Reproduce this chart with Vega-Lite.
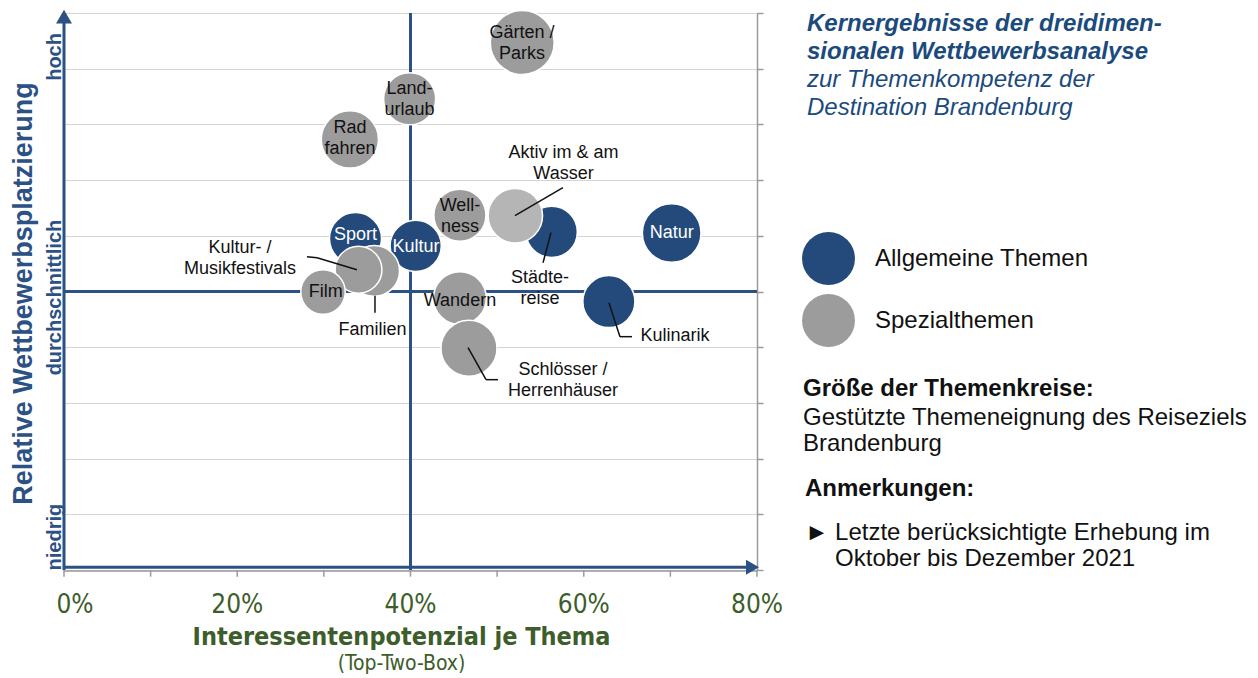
{
  "$schema": "https://vega.github.io/schema/vega-lite/v6.json",
  "width": 693,
  "height": 557,
  "autosize": {"type": "none"},
  "padding": {"left": 64, "top": 13, "right": 501, "bottom": 108},
  "background": "white",
  "config": {"view": {"stroke": null}, "font": "Liberation Sans"},
  "title": {
    "text": "Interessentenpotenzial je Thema",
    "subtitle": "(Top-Two-Box)",
    "orient": "bottom",
    "anchor": "middle",
    "frame": "group",
    "dx": -9,
    "offset": 7,
    "font": "'DejaVu Sans Condensed', 'Liberation Sans', sans-serif",
    "fontSize": 25,
    "fontWeight": "bold",
    "color": "#3d5d2a",
    "subtitleFont": "'DejaVu Sans Condensed', 'Liberation Sans', sans-serif",
    "subtitleFontSize": 21,
    "subtitleColor": "#3d5d2a",
    "subtitlePadding": 3
  },
  "datasets": {
    "themen": [
      {"Thema": "Gärten / Parks", "Typ": "Spezialthemen", "Interesse": 0.529, "Platzierung": 9.47, "Eignung": 95},
      {"Thema": "Landurlaub", "Typ": "Spezialthemen", "Interesse": 0.399, "Platzierung": 8.46, "Eignung": 63},
      {"Thema": "Rad fahren", "Typ": "Spezialthemen", "Interesse": 0.33, "Platzierung": 7.73, "Eignung": 76},
      {"Thema": "Wellness", "Typ": "Spezialthemen", "Interesse": 0.457, "Platzierung": 6.37, "Eignung": 63},
      {"Thema": "Städtereise", "Typ": "Allgemeine Themen", "Interesse": 0.563, "Platzierung": 6.07, "Eignung": 61},
      {"Thema": "Aktiv im & am Wasser", "Typ": "Spezialthemen", "Interesse": 0.521, "Platzierung": 6.36, "Eignung": 69},
      {"Thema": "Natur", "Typ": "Allgemeine Themen", "Interesse": 0.7015, "Platzierung": 6.05, "Eignung": 80},
      {"Thema": "Sport", "Typ": "Allgemeine Themen", "Interesse": 0.3365, "Platzierung": 5.95, "Eignung": 63},
      {"Thema": "Kultur", "Typ": "Allgemeine Themen", "Interesse": 0.406, "Platzierung": 5.82, "Eignung": 61},
      {"Thema": "Familien", "Typ": "Spezialthemen", "Interesse": 0.358, "Platzierung": 5.37, "Eignung": 60},
      {"Thema": "Kultur- / Musikfestivals", "Typ": "Spezialthemen", "Interesse": 0.34, "Platzierung": 5.39, "Eignung": 51},
      {"Thema": "Film", "Typ": "Spezialthemen", "Interesse": 0.299, "Platzierung": 4.99, "Eignung": 46},
      {"Thema": "Kulinarik", "Typ": "Allgemeine Themen", "Interesse": 0.629, "Platzierung": 4.82, "Eignung": 63},
      {"Thema": "Wandern", "Typ": "Spezialthemen", "Interesse": 0.457, "Platzierung": 4.88, "Eignung": 65},
      {"Thema": "Schlösser / Herrenhäuser", "Typ": "Spezialthemen", "Interesse": 0.4675, "Platzierung": 3.98, "Eignung": 73}
    ],
    "beschriftung": [
      {"Text": "Gärten /\nParks", "Typ": "Spezialthemen", "innen": true, "x": 0.5287, "y": 9.641},
      {"Text": "Land-\nurlaub", "Typ": "Spezialthemen", "innen": true, "x": 0.3988, "y": 8.627},
      {"Text": "Rad\nfahren", "Typ": "Spezialthemen", "innen": true, "x": 0.3302, "y": 7.935},
      {"Text": "Sport", "Typ": "Allgemeine Themen", "innen": true, "x": 0.3365, "y": 6.02},
      {"Text": "Kultur", "Typ": "Allgemeine Themen", "innen": true, "x": 0.4063, "y": 5.8},
      {"Text": "Natur", "Typ": "Allgemeine Themen", "innen": true, "x": 0.7015, "y": 6.05},
      {"Text": "Well-\nness", "Typ": "Spezialthemen", "innen": true, "x": 0.4571, "y": 6.528},
      {"Text": "Aktiv im & am\nWasser", "Typ": "Spezialthemen", "innen": false, "x": 0.5766, "y": 7.487},
      {"Text": "Städte-\nreise", "Typ": "Allgemeine Themen", "innen": false, "x": 0.5495, "y": 5.242},
      {"Text": "Kultur- /\nMusikfestivals", "Typ": "Spezialthemen", "innen": false, "x": 0.2032, "y": 5.786},
      {"Text": "Film", "Typ": "Spezialthemen", "innen": true, "x": 0.3021, "y": 4.984},
      {"Text": "Familien", "Typ": "Spezialthemen", "innen": false, "x": 0.3561, "y": 4.314},
      {"Text": "Wandern", "Typ": "Spezialthemen", "innen": true, "x": 0.4571, "y": 4.822},
      {"Text": "Schlösser /\nHerrenhäuser", "Typ": "Spezialthemen", "innen": false, "x": 0.5761, "y": 3.596},
      {"Text": "Kulinarik", "Typ": "Allgemeine Themen", "innen": false, "x": 0.7053, "y": 4.194}
    ],
    "linien": [
      {"Thema": "Aktiv im & am Wasser", "x": 0.576, "y": 6.864, "x2": 0.5206, "y2": 6.361},
      {"Thema": "Städtereise", "x": 0.5622, "y": 6.056, "x2": 0.553, "y2": 5.517},
      {"Thema": "Kultur- / Musikfestivals", "x": 0.2805, "y": 5.625, "x2": 0.2921, "y2": 5.607},
      {"Thema": "Kultur- / Musikfestivals", "x": 0.2921, "y": 5.607, "x2": 0.3382, "y2": 5.392},
      {"Thema": "Familien", "x": 0.359, "y": 4.925, "x2": 0.359, "y2": 4.62},
      {"Thema": "Schlösser / Herrenhäuser", "x": 0.4664, "y": 3.991, "x2": 0.4872, "y2": 3.417},
      {"Thema": "Schlösser / Herrenhäuser", "x": 0.4872, "y": 3.417, "x2": 0.501, "y2": 3.417},
      {"Thema": "Kulinarik", "x": 0.6291, "y": 4.799, "x2": 0.6418, "y2": 4.189},
      {"Thema": "Kulinarik", "x": 0.6418, "y": 4.189, "x2": 0.6557, "y2": 4.189}
    ],
    "xachse": [
      {"Wert": 0, "Text": "0%"},
      {"Wert": 0.1, "Text": ""},
      {"Wert": 0.2, "Text": "20%"},
      {"Wert": 0.3, "Text": ""},
      {"Wert": 0.4, "Text": "40%"},
      {"Wert": 0.5, "Text": ""},
      {"Wert": 0.6, "Text": "60%"},
      {"Wert": 0.7, "Text": ""},
      {"Wert": 0.8, "Text": "80%"}
    ],
    "notizen": [
      {"Teil": "Titel", "Text": "Kernergebnisse der dreidimen-\nsionalen Wettbewerbsanalyse", "x": 0.8577, "y": 9.67},
      {"Teil": "Untertitel", "Text": "zur Themenkompetenz der\nDestination Brandenburg", "x": 0.8577, "y": 8.671},
      {"Teil": "Überschrift", "Text": "Größe der Themenkreise:", "x": 0.8531, "y": 3.117},
      {"Teil": "Text", "Text": "Gestützte Themeneignung des Reiseziels\nBrandenburg", "x": 0.8531, "y": 2.609},
      {"Teil": "Überschrift", "Text": "Anmerkungen:", "x": 0.8554, "y": 1.321},
      {"Teil": "Text", "Text": "►", "x": 0.8554, "y": 0.544},
      {"Teil": "Text", "Text": "Letzte berücksichtigte Erhebung im\nOktober bis Dezember 2021", "x": 0.8901, "y": 0.544}
    ]
  },
  "resolve": {"axis": {"y": "independent"}},
  "layer": [
    {
      "data": {"name": "xachse"},
      "mark": {"type": "rule", "color": "#9a9a9a", "strokeWidth": 1.5},
      "encoding": {
        "x": {"field": "Wert", "type": "quantitative", "scale": {"domain": [0, 0.8], "nice": false, "zero": false}, "axis": null},
        "y": {"datum": 0, "type": "quantitative", "scale": {"domain": [0, 10], "nice": false, "zero": false}, "axis": null},
        "y2": {"datum": -0.12}
      }
    },
    {
      "data": {"values": [{}]},
      "mark": {"type": "rule", "color": "#9a9a9a", "strokeWidth": 1.5},
      "encoding": {
        "x": {"datum": 0, "type": "quantitative", "scale": {"domain": [0, 0.8], "nice": false, "zero": false}, "axis": null},
        "x2": {"datum": 0.8},
        "y": {"datum": -0.02, "type": "quantitative", "scale": {"domain": [0, 10], "nice": false, "zero": false}, "axis": null}
      }
    },
    {
      "data": {"name": "xachse"},
      "transform": [{"filter": "datum.Text !== ''"}],
      "mark": {"type": "text", "font": "'DejaVu Sans Condensed', 'Liberation Sans', sans-serif", "fontSize": 26, "color": "#3d5d2a", "align": "center", "baseline": "middle", "dx": {"expr": "datum.Wert === 0 ? 11 : 0"}},
      "encoding": {
        "x": {"field": "Wert", "type": "quantitative", "scale": {"domain": [0, 0.8], "nice": false, "zero": false}, "axis": null},
        "y": {"datum": -0.623, "type": "quantitative", "scale": {"domain": [0, 10], "nice": false, "zero": false}, "axis": null},
        "text": {"field": "Text"}
      }
    },
    {
      "data": {"values": [{}]},
      "mark": {"type": "rule", "color": "#2b5185", "strokeWidth": 3},
      "encoding": {
        "x": {"datum": 0.4, "type": "quantitative", "scale": {"domain": [0, 0.8], "nice": false, "zero": false}, "axis": null},
        "y": {"datum": 0, "type": "quantitative", "scale": {"domain": [0, 10], "nice": false, "zero": false}, "axis": null},
        "y2": {"datum": 10}
      }
    },
    {
      "data": {"values": [{}]},
      "mark": {"type": "rule", "color": "#2b5185", "strokeWidth": 3},
      "encoding": {
        "x": {"datum": 0, "type": "quantitative", "scale": {"domain": [0, 0.8], "nice": false, "zero": false}, "axis": null},
        "x2": {"datum": 0.8},
        "y": {"datum": 5, "type": "quantitative", "scale": {"domain": [0, 10], "nice": false, "zero": false}, "axis": null}
      }
    },
    {
      "data": {"name": "themen"},
      "mark": {"type": "point", "shape": "circle", "filled": true, "opacity": 1, "stroke": "white", "strokeWidth": 1.5},
      "encoding": {
        "x": {"field": "Interesse", "type": "quantitative", "scale": {"domain": [0, 0.8], "nice": false, "zero": false}, "axis": null},
        "y": {
          "field": "Platzierung", "type": "quantitative",
          "scale": {"domain": [0, 10], "nice": false, "zero": false},
          "axis": {
            "orient": "right",
            "values": [0, 1, 2, 3, 4, 5, 6, 7, 8, 9, 10],
            "labels": false,
            "grid": true, "gridColor": "#d4d4d4", "gridWidth": 1,
            "domainColor": "#9a9a9a", "domainWidth": 1.5,
            "tickColor": "#9a9a9a", "tickSize": 6, "tickWidth": 1.5,
            "title": null
          }
        },
        "size": {"field": "Eignung", "type": "quantitative", "scale": {"domain": [0, 100], "range": [0, 4300]}, "legend": null},
        "fill": {
          "condition": {"test": "datum.Thema === 'Aktiv im & am Wasser'", "value": "#b5b5b5"},
          "field": "Typ", "type": "nominal",
          "scale": {"domain": ["Allgemeine Themen", "Spezialthemen"], "range": ["#244a7c", "#9c9c9c"]},
          "legend": {
            "orient": "none", "legendX": 738, "legendY": 219,
            "title": null, "padding": 0, "offset": 0,
            "symbolType": "circle", "symbolSize": 2800, "symbolStrokeWidth": 0, "symbolOpacity": 1,
            "labelFont": "Liberation Sans", "labelFontSize": 24, "labelColor": "#111111",
            "labelOffset": 20, "rowPadding": 9, "labelLimit": 400
          }
        }
      }
    },
    {
      "data": {"name": "linien"},
      "mark": {"type": "rule", "color": "#111111", "strokeWidth": 1.5},
      "encoding": {
        "x": {"field": "x", "type": "quantitative", "scale": {"domain": [0, 0.8], "nice": false, "zero": false}, "axis": null},
        "y": {"field": "y", "type": "quantitative", "scale": {"domain": [0, 10], "nice": false, "zero": false}, "axis": null},
        "x2": {"field": "x2"},
        "y2": {"field": "y2"}
      }
    },
    {
      "data": {"name": "beschriftung"},
      "mark": {"type": "text", "font": "Liberation Sans", "fontSize": 18, "align": "center", "baseline": "middle", "lineBreak": "\n", "lineHeight": 21},
      "encoding": {
        "x": {
          "field": "x", "type": "quantitative",
          "scale": {"domain": [0, 0.8], "nice": false, "zero": false},
          "axis": {
            "orient": "bottom",
            "values": [0, 0.1, 0.2, 0.3, 0.4, 0.5, 0.6, 0.7, 0.8],
            "grid": true, "gridColor": "#d4d4d4", "gridWidth": 1,
            "labels": false, "ticks": false, "domain": false,
            "title": null
          }
        },
        "y": {
          "field": "y", "type": "quantitative",
          "scale": {"domain": [0, 10], "nice": false, "zero": false},
          "axis": {
            "orient": "left",
            "values": [0.6, 4.9, 9.22],
            "labelExpr": "datum.value > 9 ? 'hoch' : datum.value > 4 ? 'durchschnittlich' : 'niedrig'",
            "labelAngle": 270, "labelAlign": "center", "labelBaseline": "alphabetic",
            "labelFont": "Liberation Sans", "labelFontSize": 20, "labelFontWeight": "bold", "labelColor": "#2b5185",
            "labelPadding": 4, "labelFlush": false, "labelOverlap": false,
            "ticks": false, "domain": false, "grid": false,
            "title": "Relative Wettbewerbsplatzierung",
            "titleFont": "Liberation Sans", "titleFontSize": 27, "titleFontWeight": "bold", "titleColor": "#2b5185",
            "titleAngle": 270, "titleAlign": "center", "titleBaseline": "alphabetic",
            "titleX": -33, "titleY": 280
          }
        },
        "text": {"field": "Text"},
        "color": {"condition": {"test": "datum.innen && datum.Typ === 'Allgemeine Themen'", "value": "#ffffff"}, "value": "#111111"}
      }
    },
    {
      "data": {"values": [{}]},
      "mark": {"type": "rule", "color": "#2b5185", "strokeWidth": 3},
      "encoding": {
        "x": {"datum": 0, "type": "quantitative", "scale": {"domain": [0, 0.8], "nice": false, "zero": false}, "axis": null},
        "y": {"datum": 0, "type": "quantitative", "scale": {"domain": [0, 10], "nice": false, "zero": false}, "axis": null},
        "y2": {"datum": 9.9}
      }
    },
    {
      "data": {"values": [{}]},
      "mark": {"type": "rule", "color": "#2b5185", "strokeWidth": 3},
      "encoding": {
        "x": {"datum": 0, "type": "quantitative", "scale": {"domain": [0, 0.8], "nice": false, "zero": false}, "axis": null},
        "x2": {"datum": 0.79},
        "y": {"datum": 0.05, "type": "quantitative", "scale": {"domain": [0, 10], "nice": false, "zero": false}, "axis": null}
      }
    },
    {
      "data": {"values": [{}]},
      "mark": {"type": "point", "shape": "triangle-up", "filled": true, "opacity": 1, "color": "#2b5185", "size": 256},
      "encoding": {
        "x": {"datum": 0, "type": "quantitative", "scale": {"domain": [0, 0.8], "nice": false, "zero": false}, "axis": null},
        "y": {"datum": 9.935, "type": "quantitative", "scale": {"domain": [0, 10], "nice": false, "zero": false}, "axis": null}
      }
    },
    {
      "data": {"values": [{}]},
      "mark": {"type": "point", "shape": "triangle-right", "filled": true, "opacity": 1, "color": "#2b5185", "size": 225},
      "encoding": {
        "x": {"datum": 0.7948, "type": "quantitative", "scale": {"domain": [0, 0.8], "nice": false, "zero": false}, "axis": null},
        "y": {"datum": 0.05, "type": "quantitative", "scale": {"domain": [0, 10], "nice": false, "zero": false}, "axis": null}
      }
    },
    {
      "data": {"name": "notizen"},
      "transform": [{"filter": "datum.Teil === 'Titel'"}],
      "mark": {"type": "text", "font": "Liberation Sans", "fontSize": 24, "fontWeight": "bold", "fontStyle": "italic", "align": "left", "baseline": "alphabetic", "lineBreak": "\n", "lineHeight": 27.5, "color": "#1b4a7d"},
      "encoding": {
        "x": {"field": "x", "type": "quantitative", "scale": {"domain": [0, 0.8], "nice": false, "zero": false}, "axis": null},
        "y": {"field": "y", "type": "quantitative", "scale": {"domain": [0, 10], "nice": false, "zero": false}, "axis": null},
        "text": {"field": "Text"}
      }
    },
    {
      "data": {"name": "notizen"},
      "transform": [{"filter": "datum.Teil === 'Untertitel'"}],
      "mark": {"type": "text", "font": "Liberation Sans", "fontSize": 24, "fontStyle": "italic", "align": "left", "baseline": "alphabetic", "lineBreak": "\n", "lineHeight": 27.5, "color": "#1b4a7d"},
      "encoding": {
        "x": {"field": "x", "type": "quantitative", "scale": {"domain": [0, 0.8], "nice": false, "zero": false}, "axis": null},
        "y": {"field": "y", "type": "quantitative", "scale": {"domain": [0, 10], "nice": false, "zero": false}, "axis": null},
        "text": {"field": "Text"}
      }
    },
    {
      "data": {"name": "notizen"},
      "transform": [{"filter": "datum.Teil === 'Überschrift'"}],
      "mark": {"type": "text", "font": "Liberation Sans", "fontSize": 24, "fontWeight": "bold", "align": "left", "baseline": "alphabetic", "color": "#111111"},
      "encoding": {
        "x": {"field": "x", "type": "quantitative", "scale": {"domain": [0, 0.8], "nice": false, "zero": false}, "axis": null},
        "y": {"field": "y", "type": "quantitative", "scale": {"domain": [0, 10], "nice": false, "zero": false}, "axis": null},
        "text": {"field": "Text"}
      }
    },
    {
      "data": {"name": "notizen"},
      "transform": [{"filter": "datum.Teil === 'Text'"}],
      "mark": {"type": "text", "font": "Liberation Sans", "fontSize": 24, "align": "left", "baseline": "alphabetic", "lineBreak": "\n", "lineHeight": 26.5, "color": "#111111"},
      "encoding": {
        "x": {"field": "x", "type": "quantitative", "scale": {"domain": [0, 0.8], "nice": false, "zero": false}, "axis": null},
        "y": {"field": "y", "type": "quantitative", "scale": {"domain": [0, 10], "nice": false, "zero": false}, "axis": null},
        "text": {"field": "Text"}
      }
    }
  ]
}
